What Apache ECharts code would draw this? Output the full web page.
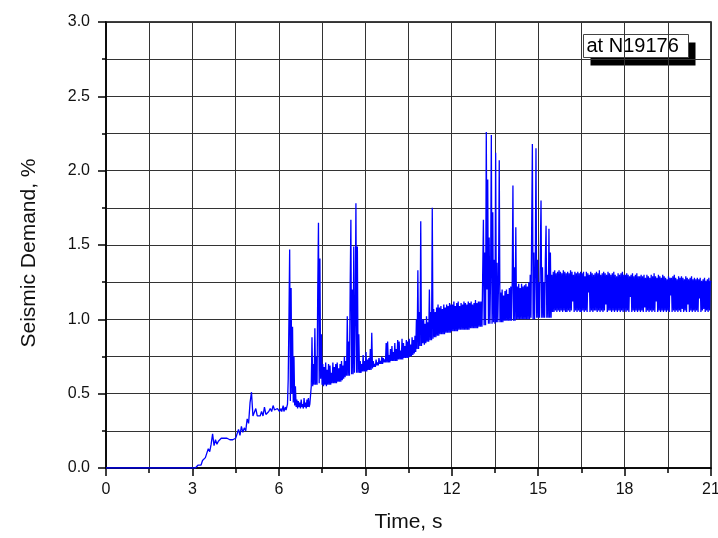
<!DOCTYPE html>
<html>
<head>
<meta charset="utf-8">
<title>Seismic Demand at N19176</title>
<script src="https://cdn.jsdelivr.net/npm/echarts@6/dist/echarts.min.js"></script>
<style>
  html, body { margin: 0; padding: 0; background: #fff; }
  #chart { width: 718px; height: 538px; }
</style>
</head>
<body>
<div id="chart"></div>
<script>
// Early part of the record, sampled every 0.05 s from t = 0 s (one row per half second).
const coarseStart = 0;
const coarseStep = 0.05;
const coarseDemand = [
  /* 0.0 */ 0, 0, 0, 0, 0, 0, 0, 0, 0, 0,
  /* 0.5 */ 0, 0, 0, 0, 0, 0, 0, 0, 0, 0,
  /* 1.0 */ 0, 0, 0, 0, 0, 0, 0, 0, 0, 0,
  /* 1.5 */ 0, 0, 0, 0, 0, 0, 0, 0, 0, 0,
  /* 2.0 */ 0, 0, 0, 0, 0, 0, 0, 0, 0, 0,
  /* 2.5 */ 0, 0, 0, 0, 0, 0, 0, 0, 0, 0,
  /* 3.0 */ 0, 0, 0, 0.01, 0.02, 0.03, 0.02, 0.05, 0.04, 0.07,
  /* 3.5 */ 0.06, 0.13, 0.11, 0.16, 0.23, 0.15, 0.19, 0.16, 0.18, 0.17,
  /* 4.0 */ 0.20, 0.19, 0.20, 0.19, 0.20, 0.19, 0.19, 0.20, 0.19, 0.19,
  /* 4.5 */ 0.20, 0.21, 0.26, 0.22, 0.28, 0.24, 0.27, 0.25, 0.33, 0.30,
  /* 5.0 */ 0.44, 0.51, 0.35, 0.34, 0.40, 0.35, 0.36, 0.35, 0.38, 0.35,
  /* 5.5 */ 0.41, 0.36, 0.37, 0.38, 0.40, 0.38, 0.42, 0.39, 0.38, 0.40
];

// Strong-shaking part, sampled every 0.025 s from t = 6 s (one row per half second).
const fineStart = 6;
const fineStep = 0.025;
const fineDemand = [
  /* 6.0 */ 0.39, 0.38, 0.39, 0.40, 0.38, 0.39, 0.42, 0.38, 0.39, 0.41, 0.39, 0.40, 0.43, 0.60, 1.00, 1.47, 0.45, 1.21, 0.50, 0.95,
  /* 6.5 */ 0.44, 0.75, 0.42, 0.55, 0.41, 0.46, 0.40, 0.45, 0.41, 0.44, 0.40, 0.46, 0.41, 0.43, 0.40, 0.47, 0.41, 0.44, 0.40, 0.46,
  /* 7.0 */ 0.41, 0.47, 0.41, 0.43, 0.42, 0.55, 0.88, 0.55, 0.70, 0.56, 0.94, 0.56, 0.75, 0.56, 1.20, 1.65, 0.57, 1.41, 0.60, 0.90,
  /* 7.5 */ 0.56, 0.70, 0.55, 0.68, 0.56, 0.71, 0.55, 0.66, 0.56, 0.70, 0.56, 0.69, 0.56, 0.64, 0.57, 0.71, 0.57, 0.68, 0.57, 0.70,
  /* 8.0 */ 0.57, 0.71, 0.58, 0.67, 0.58, 0.70, 0.58, 0.72, 0.59, 0.69, 0.60, 0.75, 0.61, 0.72, 0.62, 1.02, 0.62, 0.85, 0.62, 1.20,
  /* 8.5 */ 1.67, 0.63, 1.20, 0.63, 1.49, 0.64, 1.00, 1.78, 0.64, 1.49, 0.64, 0.90, 0.64, 0.72, 0.64, 0.70, 0.65, 0.76, 0.65, 0.72,
  /* 9.0 */ 0.65, 0.78, 0.65, 0.73, 0.66, 0.74, 0.66, 0.80, 0.66, 0.91, 0.67, 0.72, 0.68, 0.70, 0.68, 0.73, 0.69, 0.71, 0.69, 0.74,
  /* 9.5 */ 0.70, 0.72, 0.70, 0.75, 0.70, 0.74, 0.71, 0.73, 0.71, 0.84, 0.71, 0.85, 0.71, 0.76, 0.71, 0.80, 0.72, 0.82, 0.72, 0.78,
  /* 10.0 */ 0.72, 0.84, 0.72, 0.80, 0.72, 0.86, 0.73, 0.85, 0.73, 0.79, 0.73, 0.87, 0.73, 0.84, 0.74, 0.82, 0.74, 0.86, 0.74, 0.85,
  /* 10.5 */ 0.74, 0.87, 0.75, 0.83, 0.75, 0.88, 0.76, 0.86, 0.77, 0.89, 0.78, 1.00, 0.80, 1.33, 0.80, 1.05, 0.82, 1.66, 0.82, 1.00,
  /* 11.0 */ 0.84, 1.00, 0.83, 0.97, 0.84, 1.02, 0.85, 0.98, 0.85, 1.20, 0.86, 1.05, 0.86, 1.75, 0.87, 1.07, 0.88, 1.05, 0.88, 1.08,
  /* 11.5 */ 0.89, 1.10, 0.89, 1.08, 0.90, 1.09, 0.90, 1.07, 0.90, 1.10, 0.90, 1.08, 0.91, 1.10, 0.91, 1.09, 0.91, 1.11, 0.91, 1.10,
  /* 12.0 */ 0.92, 1.10, 0.92, 1.12, 0.92, 1.09, 0.92, 1.11, 0.92, 1.12, 0.93, 1.09, 0.93, 1.11, 0.93, 1.10, 0.93, 1.12, 0.93, 1.11,
  /* 12.5 */ 0.93, 1.10, 0.93, 1.12, 0.93, 1.11, 0.94, 1.12, 0.94, 1.10, 0.94, 1.11, 0.94, 1.13, 0.94, 1.11, 0.94, 1.12, 0.95, 1.12,
  /* 13.0 */ 0.95, 1.12, 0.95, 1.30, 1.67, 0.96, 1.45, 0.96, 2.26, 1.20, 1.94, 0.97, 1.55, 0.97, 1.30, 2.24, 0.97, 1.72, 0.98, 1.40,
  /* 13.5 */ 0.97, 2.12, 0.98, 1.38, 0.98, 1.25, 2.07, 0.98, 1.18, 0.98, 1.20, 0.98, 1.16, 0.99, 1.19, 0.99, 1.20, 0.99, 1.17, 0.99,
  /* 14.0 */ 1.21, 0.99, 1.22, 0.99, 1.25, 1.90, 0.99, 1.35, 0.99, 1.62, 1.00, 1.22, 1.00, 1.24, 1.00, 1.21, 1.00, 1.24, 1.00, 1.22,
  /* 14.5 */ 1.00, 1.23, 1.00, 1.24, 1.00, 1.22, 1.00, 1.25, 1.00, 1.30, 1.01, 1.60, 2.18, 1.00, 1.45, 1.00, 1.30, 2.15, 1.01, 1.40,
  /* 15.0 */ 1.01, 1.25, 1.01, 1.45, 1.80, 1.01, 1.35, 1.01, 1.25, 1.01, 1.40, 1.63, 1.01, 1.30, 1.01, 1.61, 1.01, 1.45, 1.01, 1.30,
  /* 15.5 */ 1.05, 1.32, 1.05, 1.33, 1.06, 1.31, 1.05, 1.32, 1.06, 1.33, 1.05, 1.32, 1.06, 1.31, 1.05, 1.33, 1.06, 1.32, 1.05, 1.31,
  /* 16.0 */ 1.05, 1.32, 1.06, 1.31, 1.05, 1.33, 1.06, 1.32, 1.12, 1.30, 1.05, 1.32, 1.06, 1.31, 1.05, 1.32, 1.06, 1.31, 1.05, 1.32,
  /* 16.5 */ 1.05, 1.31, 1.06, 1.32, 1.05, 1.29, 1.06, 1.32, 1.05, 1.31, 1.18, 1.30, 1.05, 1.32, 1.06, 1.31, 1.05, 1.30, 1.06, 1.31,
  /* 17.0 */ 1.06, 1.32, 1.05, 1.31, 1.06, 1.33, 1.05, 1.30, 1.06, 1.31, 1.05, 1.32, 1.06, 1.31, 1.10, 1.30, 1.05, 1.32, 1.06, 1.31,
  /* 17.5 */ 1.06, 1.30, 1.05, 1.31, 1.06, 1.32, 1.05, 1.30, 1.06, 1.29, 1.05, 1.31, 1.06, 1.30, 1.05, 1.31, 1.06, 1.32, 1.05, 1.30,
  /* 18.0 */ 1.06, 1.30, 1.05, 1.31, 1.06, 1.30, 1.05, 1.29, 1.15, 1.30, 1.05, 1.31, 1.06, 1.29, 1.05, 1.30, 1.06, 1.31, 1.05, 1.29,
  /* 18.5 */ 1.06, 1.29, 1.05, 1.30, 1.06, 1.29, 1.05, 1.30, 1.08, 1.28, 1.05, 1.30, 1.06, 1.29, 1.05, 1.28, 1.06, 1.30, 1.05, 1.29,
  /* 19.0 */ 1.06, 1.31, 1.05, 1.29, 1.12, 1.28, 1.05, 1.30, 1.06, 1.29, 1.05, 1.28, 1.06, 1.30, 1.05, 1.29, 1.06, 1.28, 1.05, 1.27,
  /* 19.5 */ 1.06, 1.29, 1.05, 1.28, 1.16, 1.28, 1.05, 1.29, 1.06, 1.30, 1.05, 1.28, 1.06, 1.27, 1.05, 1.29, 1.06, 1.28, 1.05, 1.29,
  /* 20.0 */ 1.07, 1.28, 1.05, 1.27, 1.06, 1.29, 1.05, 1.28, 1.10, 1.27, 1.05, 1.28, 1.06, 1.29, 1.05, 1.27, 1.06, 1.28, 1.05, 1.27,
  /* 20.5 */ 1.06, 1.28, 1.05, 1.27, 1.14, 1.28, 1.05, 1.26, 1.06, 1.27, 1.07, 1.28, 1.05, 1.26, 1.06, 1.27, 1.05, 1.28, 1.06, 1.26,
  /* 21.0 */ 1.25
];

const timeRange = [0, 21];
const timeTickStep = 3;
const demandRange = [0, 3];
const demandTickStep = 0.5;
const nodeLabel = 'at N19176';

const points = [
  ...coarseDemand.map((v, i) => [+(coarseStart + i * coarseStep).toFixed(3), v]),
  ...fineDemand.map((v, i) => [+(fineStart + i * fineStep).toFixed(3), v])
];

const FONT = "'Liberation Sans', Arial, sans-serif";
const gridColor = '#333';

const chart = echarts.init(document.getElementById('chart'), null, { renderer: 'canvas' });

chart.setOption({
  animation: false,
  backgroundColor: '#fff',
  grid: {
    left: 106, right: 7, top: 22, bottom: 70,
    show: true, borderColor: '#000', borderWidth: 1.5,
    containLabel: false,
    outerBoundsMode: 'none'
  },
  xAxis: {
    type: 'value',
    min: timeRange[0], max: timeRange[1], interval: timeTickStep,
    name: 'Time, s',
    nameLocation: 'middle',
    nameGap: 44,
    nameTextStyle: { fontFamily: FONT, fontSize: 21, color: '#111' },
    axisLine: { show: true, onZero: false, lineStyle: { color: '#000', width: 1.5 } },
    axisTick: { show: true, inside: false, length: 8, lineStyle: { color: '#000', width: 1.5 } },
    minorTick: { show: true, splitNumber: 2, length: 5, lineStyle: { color: '#000', width: 1.5 } },
    axisLabel: { fontFamily: FONT, fontSize: 16, color: '#111', margin: 14, hideOverlap: false },
    splitLine: { show: true, lineStyle: { color: gridColor, width: 1 } },
    minorSplitLine: { show: true, lineStyle: { color: gridColor, width: 1 } }
  },
  yAxis: {
    type: 'value',
    min: demandRange[0], max: demandRange[1], interval: demandTickStep,
    name: 'Seismic Demand, %',
    nameLocation: 'middle',
    nameGap: 66,
    nameRotate: 90,
    nameTextStyle: { fontFamily: FONT, fontSize: 21, color: '#111', padding: [0, 16, 0, 0] },
    axisLine: { show: true, onZero: false, lineStyle: { color: '#000', width: 1.5 } },
    axisTick: { show: true, inside: false, length: 8, lineStyle: { color: '#000', width: 1.5 } },
    minorTick: { show: true, splitNumber: 2, length: 4, lineStyle: { color: '#000', width: 1.5 } },
    axisLabel: {
      fontFamily: FONT, fontSize: 16, color: '#111', margin: 16,
      formatter: v => v.toFixed(1)
    },
    splitLine: { show: true, lineStyle: { color: gridColor, width: 1 } },
    minorSplitLine: { show: true, lineStyle: { color: gridColor, width: 1 } }
  },
  series: [{
    type: 'line',
    data: points,
    showSymbol: false,
    symbol: 'none',
    sampling: null,
    clip: true,
    lineStyle: { color: '#0000ff', width: 1.3 },
    emphasis: { disabled: true },
    z: 5
  }],
  graphic: [{
    type: 'group',
    left: 583, top: 34,
    z: 100,
    children: [
      { type: 'rect', shape: { x: 7, y: 8, width: 105, height: 23 }, style: { fill: '#000' } },
      { type: 'rect', shape: { x: 0, y: 0, width: 105, height: 23 }, style: { fill: '#fff', stroke: '#444', lineWidth: 1 } },
      {
        type: 'text', x: 3, y: 12,
        style: { text: nodeLabel, font: "20px 'Liberation Sans', Arial, sans-serif", fill: '#000', verticalAlign: 'middle', align: 'left' }
      }
    ]
  }]
});
</script>
</body>
</html>
